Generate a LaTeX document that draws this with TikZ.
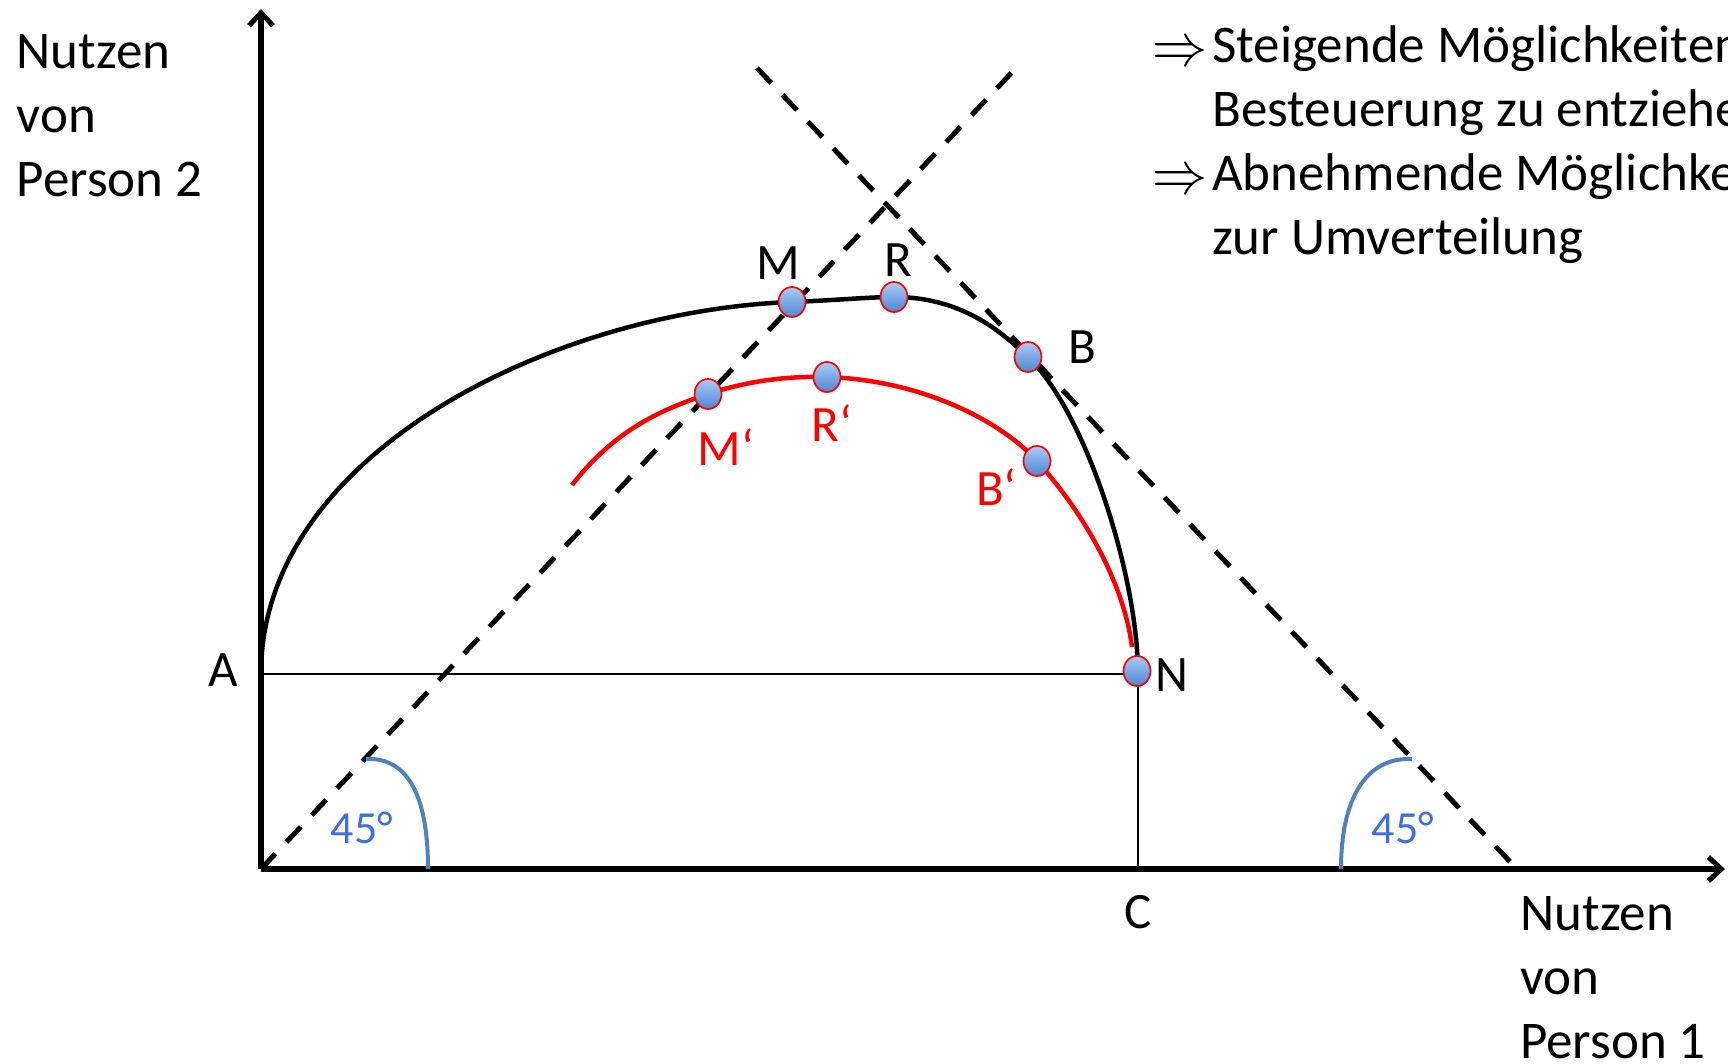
\documentclass[tikz,border=0pt]{standalone}
\usepackage{fontspec}
\setmainfont{Carlito}
\usetikzlibrary{arrows.meta,shapes.geometric}
\definecolor{ink}{HTML}{000000}
\definecolor{redline}{HTML}{FF0000}
\definecolor{anglearc}{HTML}{4F81BD}
\definecolor{angletext}{HTML}{3F6FE0}
\definecolor{dottop}{HTML}{A8CBF7}
\definecolor{dotbot}{HTML}{4F86D2}
\newcommand{\impl}{\raisebox{-3pt}{\resizebox{55pt}{22pt}{$\Rightarrow$}}}

\begin{document}
\begin{tikzpicture}[
 x=1pt,y=-1pt,font=\fontsize{53}{64}\selectfont,text=ink,
 axis/.style={line width=5.5pt,-{Straight Barb[length=13pt,width=24pt,line width=5pt]}},
 guide/.style={line width=5pt,dash pattern=on 21pt off 16pt},
 thin/.style={line width=1.8pt},
 frontier/.style={line width=4.5pt},
 frontierred/.style={line width=4.5pt,draw=redline},
 anglemark/.style={line width=4pt,draw=anglearc},
 dot/.style={ellipse,draw=redline,line width=1.7pt,minimum width=27pt,minimum height=30pt,inner sep=0pt,top color=dottop,bottom color=dotbot},
 lab/.style={inner sep=0pt,font=\fontsize{51}{60}\selectfont},
 redlab/.style={lab,text=redline},
 deg/.style={inner sep=0pt,font=\fontsize{46}{56}\selectfont,text=angletext}
]
\useasboundingbox (0,0) rectangle (1728,1063);
\clip (0,0) rectangle (1728,1063);

\coordinate (O) at (261,869);
\coordinate (ytip) at (261,9);
\coordinate (xtip) at (1725,869);
\coordinate (A) at (261,674);
\coordinate (N) at (1138,674);
\coordinate (C) at (1138,869);
\coordinate (g1) at (1016,68);
\coordinate (g2) at (757,68);
\coordinate (g2end) at (1517,869);

% axes and helper lines
\draw[thin] (A) -- (N) -- (C);
\draw[axis] (O) -- (ytip);
\draw[axis] (O) -- (xtip);
\draw[guide] (O) -- (g1);
\draw[guide] (g2) -- (g2end);

% utility frontiers
\draw[frontier] (A) .. controls (261,450) and (560,310) .. (792,302)
 .. controls (840,300) and (870,297) .. (894,297)
 .. controls (960,297) and (1000,330) .. (1028,357)
 .. controls (1088,415) and (1138,580) .. (N);
\draw[frontierred] (572,485) .. controls (615,430) and (660,410) .. (708,394)
 .. controls (750,380) and (790,376) .. (827,377)
 .. controls (920,380) and (1000,420) .. (1037,461)
 .. controls (1090,520) and (1125,590) .. (1132,647);

% 45 degree marks
\draw[anglemark] (366,759) .. controls (410,757) and (428,800) .. (428,869);
\draw[anglemark] (1341,869) .. controls (1341,800) and (1365,757) .. (1412,759);
\node[deg] (degl) at (362,828) {45°};
\node[deg] (degr) at (1403,828) {45°};

% points
\node[dot] (pM) at (792,302) {};
\node[dot] (pR) at (894,297) {};
\node[dot] (pB) at (1028,357) {};
\node[dot] (pN) at (1137,671) {};
\node[dot] (pMs) at (708,394) {};
\node[dot] (pRs) at (827,377) {};
\node[dot] (pBs) at (1037,461) {};

\node[lab] (lA) at (223,670) {A};
\node[lab] (lC) at (1138,912) {C};
\node[lab] (lN) at (1172,675) {N};
\node[lab] (lM) at (778,263) {M};
\node[lab] (lR) at (898,260) {R};
\node[lab] (lB) at (1082,347) {B};
\node[redlab] (lMs) at (726,447) {M‘};
\node[redlab] (lRs) at (832,423) {R‘};
\node[redlab] (lBs) at (996,487) {B‘};

% axis titles
\node[anchor=north west,inner sep=0pt] (ylab) at (16.5,23) {\begin{tabular}{@{}l@{}}Nutzen\\von\\Person 2\end{tabular}};
\node[anchor=north west,inner sep=0pt] (xlab) at (1520,885) {\begin{tabular}{@{}l@{}}Nutzen\\von\\Person 1\end{tabular}};

% conclusions
\node[anchor=north west,inner sep=0pt] (effects) at (1152,17) {\begin{tabular}{@{}l@{\hspace{5pt}}l@{}}
\impl & Steigende Möglichkeiten, sich der\\
 & Besteuerung zu entziehen\\
\impl & Abnehmende Möglichkeiten\\
 & zur Umverteilung
\end{tabular}};
\end{tikzpicture}
\end{document}
